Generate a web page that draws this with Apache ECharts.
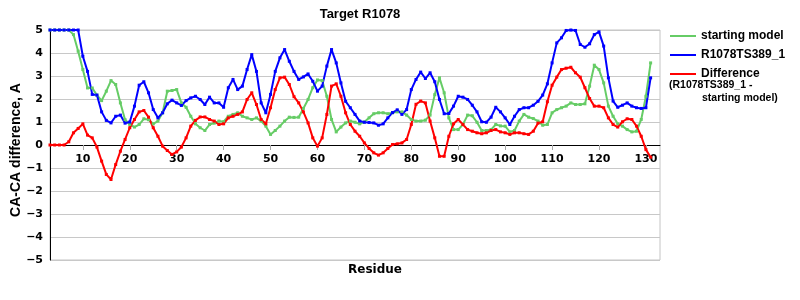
<!DOCTYPE html>
<html>
<head>
<meta charset="utf-8">
<script src="https://cdn.jsdelivr.net/npm/echarts@6/dist/echarts.min.js"></script>
<style>html,body{margin:0;padding:0;background:#fff}#c{width:800px;height:300px}</style>
</head>
<body>
<div id="c"></div>
<script>
const residues = [3,4,5,6,7,8,9,10,11,12,13,14,15,16,17,18,19,20,21,22,23,24,25,26,27,28,29,30,31,32,33,34,35,36,37,38,39,40,41,42,43,44,45,46,47,48,49,50,51,52,53,54,55,56,57,58,59,60,61,62,63,64,65,66,67,68,69,70,71,72,73,74,75,76,77,78,79,80,81,82,83,84,85,86,87,88,89,90,91,92,93,94,95,96,97,98,99,100,101,102,103,104,105,106,107,108,109,110,111,112,113,114,115,116,117,118,119,120,121,122,123,124,125,126,127,128,129,130,131];
const startingModel = [5,5,5,5,5,4.8,4.08,3.28,2.48,2.48,2.17,1.93,2.34,2.8,2.63,1.83,1.1,0.89,0.78,0.89,1.14,1.1,0.92,1.04,1.4,2.34,2.37,2.41,1.83,1.64,1.25,0.92,0.75,0.63,0.89,0.95,1.04,1.01,1.25,1.33,1.4,1.25,1.18,1.11,1.18,1.04,0.82,0.46,0.63,0.82,1.04,1.21,1.2,1.21,1.59,1.98,2.49,2.83,2.8,2.12,1.11,0.57,0.78,0.96,1.04,0.99,0.92,1.0,1.18,1.36,1.4,1.4,1.36,1.4,1.44,1.44,1.3,1.11,1.04,1.04,1.08,1.3,2.19,2.92,2.27,1.18,0.67,0.67,0.89,1.3,1.27,0.99,0.63,0.63,0.67,0.89,0.83,0.82,0.57,0.63,1.04,1.33,1.21,1.15,1.04,0.86,0.89,1.4,1.54,1.62,1.69,1.83,1.76,1.76,1.79,2.56,3.47,3.28,2.7,1.69,1.25,0.92,0.82,0.67,0.57,0.6,1.11,2.12,3.57];
const modelTS389 = [5,5,5,5,5,5,5,3.86,3.2,2.2,2.17,1.44,1.07,0.96,1.25,1.3,0.95,1.0,1.69,2.6,2.75,2.27,1.54,1.18,1.4,1.79,1.95,1.83,1.72,1.93,2.05,2.12,1.98,1.76,2.08,1.83,1.83,1.64,2.49,2.85,2.41,2.56,3.28,3.93,3.2,1.83,1.4,2.2,3.2,3.79,4.15,3.64,3.2,2.85,2.96,3.09,2.77,2.34,2.56,3.43,4.15,3.57,2.7,1.9,1.62,1.33,1.04,0.99,0.98,0.96,0.86,0.92,1.18,1.41,1.53,1.33,1.54,2.41,2.85,3.17,2.89,3.14,2.75,1.98,1.36,1.37,1.69,2.12,2.08,1.98,1.73,1.44,1.01,0.99,1.21,1.64,1.44,1.18,0.89,1.25,1.54,1.62,1.62,1.73,1.9,2.17,2.66,3.57,4.44,4.66,4.98,5.0,4.98,4.37,4.25,4.4,4.8,4.92,4.3,2.92,1.91,1.64,1.73,1.83,1.69,1.62,1.59,1.62,2.92];
const difference = [0,0,0,0,0.14,0.53,0.72,0.92,0.43,0.31,-0.09,-0.7,-1.28,-1.5,-0.85,-0.27,0.24,0.75,1.11,1.44,1.5,1.21,0.75,0.38,-0.05,-0.24,-0.41,-0.3,-0.09,0.31,0.82,1.07,1.22,1.22,1.11,1.04,0.89,0.92,1.18,1.25,1.33,1.44,1.98,2.27,1.76,1.11,0.92,1.62,2.41,2.92,2.95,2.63,2.1,1.83,1.44,0.96,0.31,-0.05,0.31,1.33,2.56,2.66,2.12,1.4,0.89,0.6,0.38,0.09,-0.15,-0.34,-0.44,-0.34,-0.15,0.02,0.05,0.09,0.24,0.89,1.77,1.91,1.83,1.04,0.31,-0.49,-0.49,0.38,0.92,1.11,0.89,0.67,0.6,0.53,0.49,0.53,0.63,0.67,0.57,0.53,0.46,0.53,0.53,0.49,0.46,0.6,0.95,1.01,1.88,2.6,2.95,3.28,3.34,3.38,3.14,2.95,2.49,2.02,1.69,1.69,1.62,1.18,0.89,0.78,1.01,1.14,1.11,0.82,0.38,-0.2,-0.53];
const xTicks = [10,20,30,40,50,60,70,80,90,100,110,120,130];
const yTicks = [-5,-4,-3,-2,-1,0,1,2,3,4,5];

const pairs = arr => residues.map((r, i) => [r, arr[i]]);
const labelFont = { fontFamily: 'DejaVu Sans', fontWeight: 'bold', fontSize: 11, color: '#000' };

const chart = echarts.init(document.getElementById('c'), null, { renderer: 'canvas' });
const mk = (name, data, color) => ({
  name, type: 'line', data: pairs(data),
  lineStyle: { color, width: 2 },
  itemStyle: { color },
  symbol: 'rect', symbolSize: 3, showSymbol: true,
  animation: false
});
chart.setOption({
  animation: false,
  grid: { left: 50, right: 140, top: 30, height: 230, show: true, borderColor: '#c4c4c4', borderWidth: 1, containLabel: false, outerBoundsMode: 'none' },
  xAxis: {
    type: 'value', min: 3, max: 133, position: 'bottom', offset: -115,
    axisLine: { onZero: false, lineStyle: { color: '#000', width: 1 } },
    axisTick: { show: true, customValues: xTicks, length: 5, lineStyle: { color: '#a8a8a8' } },
    axisLabel: { customValues: xTicks, margin: 9, ...labelFont },
    splitLine: { show: false }
  },
  yAxis: {
    type: 'value', min: -5, max: 5, interval: 1,
    axisLine: { show: true, lineStyle: { color: '#000', width: 1 } },
    axisTick: { show: false },
    axisLabel: { margin: 7, ...labelFont, formatter: v => v < 0 ? '\u2212' + (-v) : String(v) },
    splitLine: { show: true, lineStyle: { color: '#c8c8c8', width: 1 } }
  },
  legend: {
    orient: 'vertical', left: 670, top: 30, padding: 0, itemWidth: 26, itemHeight: 14, itemGap: 7,
    icon: 'path://M0,0h26v2h-26z',
    textStyle: { fontFamily: 'Liberation Sans', fontWeight: 'bold', fontSize: 12, color: '#000' },
    data: ['starting model', 'R1078TS389_1', 'Difference']
  },
  graphic: [
    { type: 'text', x: 360, y: 14, style: { text: 'Target R1078', font: 'bold 13px "Liberation Sans"', fill: '#000', align: 'center', verticalAlign: 'middle' } },
    { type: 'text', x: 16, y: 150, rotation: Math.PI / 2, style: { text: 'CA-CA difference, A', font: 'bold 14px "Liberation Sans"', fill: '#000', align: 'center', verticalAlign: 'middle' } },
    { type: 'text', x: 375, y: 270, style: { text: 'Residue', font: 'bold 12px "DejaVu Sans"', fill: '#000', align: 'center', verticalAlign: 'middle' } },
    { type: 'text', x: 669, y: 85, style: { text: '(R1078TS389_1 -', font: 'bold 10.5px "Liberation Sans"', fill: '#000', align: 'left', verticalAlign: 'middle' } },
    { type: 'text', x: 702, y: 98, style: { text: 'starting model)', font: 'bold 10.5px "Liberation Sans"', fill: '#000', align: 'left', verticalAlign: 'middle' } }
  ],
  series: [
    mk('starting model', startingModel, '#66cc66'),
    mk('R1078TS389_1', modelTS389, '#0000ff'),
    mk('Difference', difference, '#ff0000')
  ]
});
</script>
</body>
</html>
